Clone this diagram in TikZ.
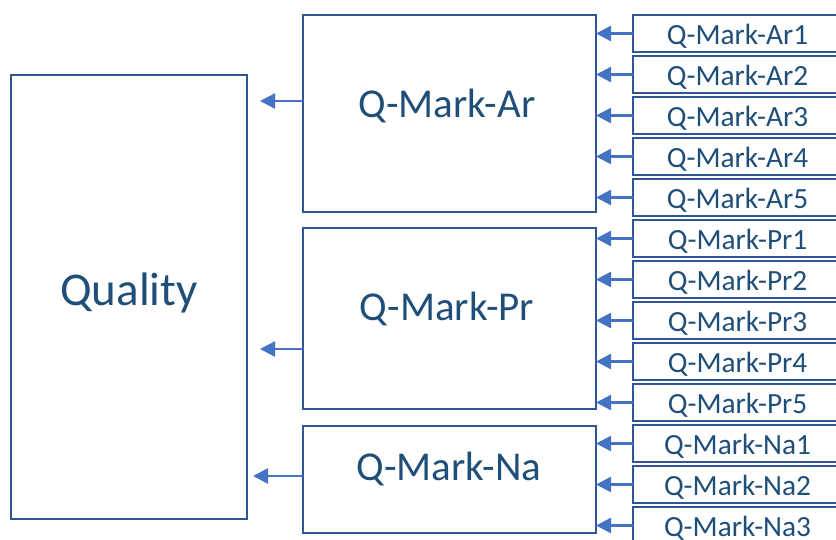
\documentclass[tikz,border=0pt]{standalone}
\usepackage{fontspec}
\setmainfont{Carlito}
\usetikzlibrary{arrows.meta}
\definecolor{boxc}{HTML}{2F5597}
\definecolor{arrc}{HTML}{4472C4}
\definecolor{txtc}{HTML}{1F4E79}
\begin{document}
\begin{tikzpicture}[x=1pt,y=-1pt,
  box/.style={draw=boxc,line width=2.6pt,fill=white,inner sep=0pt,outer sep=0pt},
  arr/.style={draw=arrc,line width=2.4pt,-{Triangle[length=15pt,width=15pt]}},
  bigtxt/.style={text=txtc,font=\fontsize{41}{41}\selectfont,anchor=base,inner sep=0pt},
  qtxt/.style={text=txtc,font=\fontsize{47}{47}\selectfont,anchor=base,inner sep=0pt},
  smtxt/.style={text=txtc,font=\fontsize{29.3}{29.3}\selectfont,anchor=base,inner sep=0pt}]
\useasboundingbox (0,0) rectangle (836,539);
\begin{scope}
\clip (0,0) rectangle (836,539);
% left box
\node[box,minimum width=236pt,minimum height=444pt,anchor=north west] (quality) at (11,75) {};
\node[qtxt] (qualityt) at (129,305) {Quality};
% middle boxes
\node[box,minimum width=293pt,minimum height=197pt,anchor=north west] (ar) at (303,15) {};
\node[bigtxt] (art) at (447,117) {Q-Mark-Ar};
\node[box,minimum width=293pt,minimum height=181pt,anchor=north west] (pr) at (303,228) {};
\node[bigtxt] (prt) at (447,320) {Q-Mark-Pr};
\node[box,minimum width=293pt,minimum height=107pt,anchor=north west] (na) at (303,426) {};
\node[bigtxt] (nat) at (449,480) {Q-Mark-Na};
% big arrows
\draw[arr,shorten >=13pt] ([yshift=12.5pt]ar.west) -- ([yshift=12.5pt]ar.west -| quality.east);
\draw[arr,shorten >=13pt] ([yshift=-30.5pt]pr.west) -- ([yshift=-30.5pt]pr.west -| quality.east);
\draw[arr,shorten >=6pt] ([yshift=3.5pt]na.west) -- ([yshift=3.5pt]na.west -| quality.east);
% small boxes
\foreach \i/\lab/\tgt in {0/Ar1/ar,1/Ar2/ar,2/Ar3/ar,3/Ar4/ar,4/Ar5/ar,5/Pr1/pr,6/Pr2/pr,7/Pr3/pr,8/Pr4/pr,9/Pr5/pr,10/Na1/na,11/Na2/na,12/Na3/na}{
  \node[box,minimum width=208pt,minimum height=37pt,anchor=north west] (s\i) at (633,{15+41*\i}) {};
  \node[smtxt] (s\i t) at (737.5,{44+41*\i}) {Q-Mark-\lab};
  \draw[arr] (s\i.west) -- (s\i.west -| \tgt.east);
}
\end{scope}
\end{tikzpicture}
\end{document}
